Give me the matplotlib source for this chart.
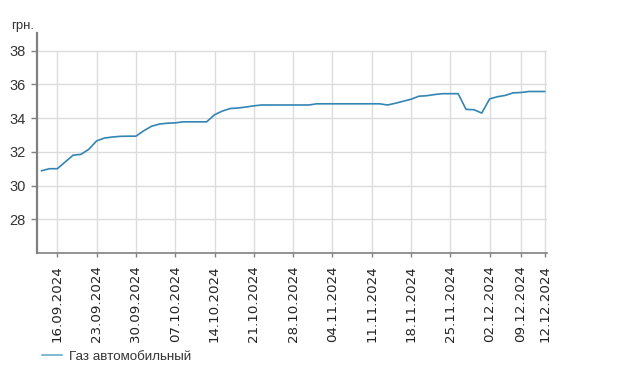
"""
plot.py - цена на газ автомобильный, сентябрь - декабрь 2024.
"""

import matplotlib
matplotlib.use("Agg")
import matplotlib.pyplot as plt


# рабочие дни (ось категорий, как в исходном графике)
DATES = [
    "12.09.2024", "13.09.2024",
    "16.09.2024", "17.09.2024", "18.09.2024", "19.09.2024", "20.09.2024",
    "23.09.2024", "24.09.2024", "25.09.2024", "26.09.2024", "27.09.2024",
    "30.09.2024", "01.10.2024", "02.10.2024", "03.10.2024", "04.10.2024",
    "07.10.2024", "08.10.2024", "09.10.2024", "10.10.2024", "11.10.2024",
    "14.10.2024", "15.10.2024", "16.10.2024", "17.10.2024", "18.10.2024",
    "21.10.2024", "22.10.2024", "23.10.2024", "24.10.2024", "25.10.2024",
    "28.10.2024", "29.10.2024", "30.10.2024", "31.10.2024", "01.11.2024",
    "04.11.2024", "05.11.2024", "06.11.2024", "07.11.2024", "08.11.2024",
    "11.11.2024", "12.11.2024", "13.11.2024", "14.11.2024", "15.11.2024",
    "18.11.2024", "19.11.2024", "20.11.2024", "21.11.2024", "22.11.2024",
    "25.11.2024", "26.11.2024", "27.11.2024", "28.11.2024", "29.11.2024",
    "02.12.2024", "03.12.2024", "04.12.2024", "05.12.2024",
    "09.12.2024", "10.12.2024", "11.12.2024", "12.12.2024",
]

PRICES = [
    30.88, 31.00,
    31.00, 31.40, 31.80, 31.85, 32.15,
    32.65, 32.82, 32.88, 32.92, 32.93,
    32.93, 33.25, 33.52, 33.65, 33.70,
    33.72, 33.78, 33.78, 33.78, 33.78,
    34.20, 34.42, 34.57, 34.60, 34.66,
    34.73, 34.78, 34.78, 34.78, 34.78,
    34.78, 34.78, 34.78, 34.85, 34.85,
    34.85, 34.85, 34.85, 34.85, 34.85,
    34.85, 34.85, 34.78, 34.88, 35.00,
    35.12, 35.30, 35.33, 35.40, 35.45,
    35.45, 35.45, 34.52, 34.50, 34.30,
    35.14, 35.27, 35.35, 35.50,
    35.52, 35.58, 35.58, 35.58,
]

TICK_DATES = [
    "16.09.2024", "23.09.2024", "30.09.2024", "07.10.2024", "14.10.2024",
    "21.10.2024", "28.10.2024", "04.11.2024", "11.11.2024", "18.11.2024",
    "25.11.2024", "02.12.2024", "09.12.2024", "12.12.2024",
]

Y_TICKS = [28, 30, 32, 34, 36, 38]

SERIES_NAME = "Газ автомобильный"
LINE_COLOR = "#3385b3"
GRID_COLOR = "#dcdcdc"
AXIS_COLOR = "#808080"
TEXT_COLOR = "#333333"


def main():
    plt.rcParams["font.family"] = ["Liberation Sans", "DejaVu Sans"]

    fig = plt.figure(figsize=(6.22, 3.73), dpi=100)
    ax = fig.add_axes([37 / 622, 1 - 253 / 373, 510 / 622, 220 / 373])

    ax.plot(DATES, PRICES, color=LINE_COLOR, lw=1.2, label=SERIES_NAME, zorder=3)

    ax.set_xlim(-0.585, len(DATES) - 0.7)
    ax.set_ylim(26, 39.05)

    # сетка: горизонтальные линии на делениях, вертикальные до 38
    for y in Y_TICKS:
        ax.axhline(y, color=GRID_COLOR, lw=1, zorder=0)
    ax.vlines(TICK_DATES, 26, Y_TICKS[-1], color=GRID_COLOR, lw=1, zorder=0)

    ax.set_yticks(Y_TICKS)
    ax.set_xticks(TICK_DATES)
    ax.set_xticklabels(TICK_DATES, rotation=90, fontsize=9.6,
                       family="DejaVu Sans", color="#222222")
    ax.tick_params(axis="y", labelsize=10.5, labelcolor=TEXT_COLOR,
                   length=4, width=1, color=AXIS_COLOR, pad=4)
    ax.tick_params(axis="x", length=3, width=1, color=AXIS_COLOR, pad=6)

    for side in ("top", "right"):
        ax.spines[side].set_visible(False)
    ax.spines["left"].set_color(AXIS_COLOR)
    ax.spines["left"].set_linewidth(1.6)
    ax.spines["bottom"].set_color(AXIS_COLOR)
    ax.spines["bottom"].set_linewidth(1.2)

    fig.text(11 / 622, 1 - 29 / 373, "грн.", fontsize=9.5, color=TEXT_COLOR,
             va="baseline")

    fig.legend(loc="center left", bbox_to_anchor=(42 / 622, 1 - 357 / 373),
               frameon=False, fontsize=9.6, handlelength=1.5, handletextpad=0.5,
               borderpad=0, borderaxespad=0, labelcolor=TEXT_COLOR)
    for line in fig.legends[0].get_lines():
        line.set_color("#6aaed0")

    fig.savefig("out.png", dpi=100)
    plt.close(fig)


if __name__ == "__main__":
    main()
